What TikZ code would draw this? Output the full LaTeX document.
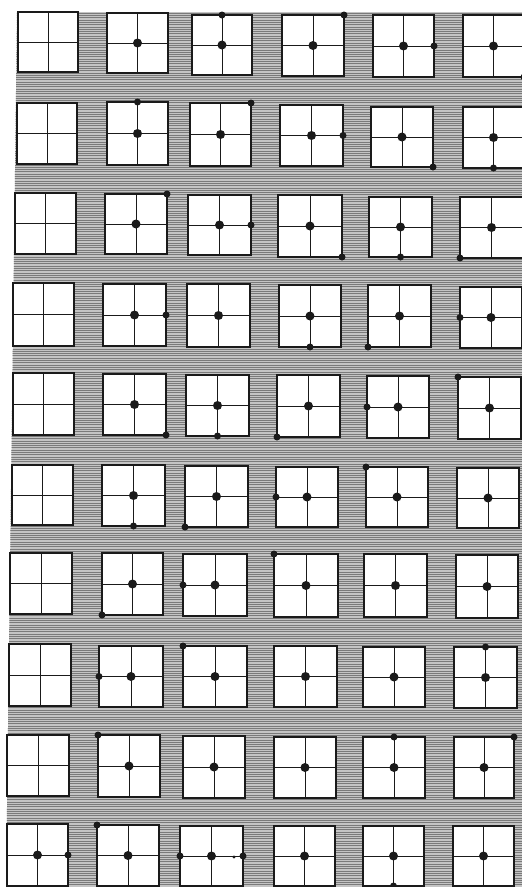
\documentclass[tikz,border=0pt]{standalone}
\usepackage{tikz}
\usetikzlibrary{calc}
\definecolor{hatchGray}{HTML}{C4C4C4}
\definecolor{hatchLine}{HTML}{7A7A7A}
\definecolor{inkBlack}{HTML}{1A1A1A}

\begin{document}
\begin{tikzpicture}[x=1pt,y=-1pt,
    sq/.style={draw=inkBlack,fill=white,line width=1.5pt,inner sep=0pt,outer sep=0pt},
    cross/.style={inkBlack,line width=0.8pt},
    pip/.style={fill=inkBlack}]
    \useasboundingbox (0,0) rectangle (522,887);
    \fill[white] (0,0) rectangle (522,887);
    \coordinate (ga) at (17,12);
    \coordinate (gb) at (522,12);
    \coordinate (gc) at (522,887);
    \coordinate (gd) at (6,887);
    \fill[hatchGray] (ga) -- (gb) -- (gc) -- (gd) -- cycle;
    \begin{scope}
      \clip (ga) -- (gb) -- (gc) -- (gd) -- cycle;
      \foreach \y in {13,15.3,...,887}
        \draw[hatchLine,line width=0.6pt] (0,\y) -- (522,\y);
    \end{scope}
    \foreach \r/\c/\xa/\ya/\xb/\yb in {
      1/1/18/12/78/72, 1/2/107/13/168/73, 1/3/192/15/252/75, 1/4/282/15/344/76, 1/5/373/15/434/77, 1/6/463/15/524/77,
      2/1/17/103/77/164, 2/2/107/102/168/165, 2/3/190/103/251/166, 2/4/280/105/343/166, 2/5/371/107/433/167, 2/6/463/107/524/168,
      3/1/15/193/76/254, 3/2/105/194/167/254, 3/3/188/195/251/255, 3/4/278/195/342/257, 3/5/369/197/432/257, 3/6/460/197/523/258,
      4/1/13/283/74/346, 4/2/103/284/166/346, 4/3/187/284/250/347, 4/4/279/285/341/347, 4/5/368/285/431/347, 4/6/460/287/522/348,
      5/1/13/373/74/435, 5/2/103/374/166/435, 5/3/186/375/249/436, 5/4/277/375/340/437, 5/5/367/376/429/438, 5/6/458/377/521/439,
      6/1/12/465/73/525, 6/2/102/465/165/526, 6/3/185/466/248/527, 6/4/276/467/338/527, 6/5/366/467/428/527, 6/6/457/468/519/528,
      7/1/10/553/72/614, 7/2/102/553/163/615, 7/3/183/554/247/616, 7/4/274/554/338/617, 7/5/364/554/427/617, 7/6/456/555/518/618,
      8/1/9/644/71/706, 8/2/99/646/163/707, 8/3/183/646/247/707, 8/4/274/646/337/707, 8/5/363/647/425/707, 8/6/454/647/517/708,
      9/1/7/735/69/796, 9/2/98/735/160/797, 9/3/183/736/245/798, 9/4/274/737/336/798, 9/5/363/737/425/798, 9/6/454/737/514/798,
      10/1/7/824/68/886, 10/2/97/825/159/886, 10/3/180/826/243/886, 10/4/274/826/335/886, 10/5/363/826/424/886, 10/6/453/826/514/886}
    {
      \pgfmathsetmacro\w{\xb-\xa}
      \pgfmathsetmacro\h{\yb-\ya}
      \node[sq,minimum width=\w pt,minimum height=\h pt] (s\r-\c) at ({(\xa+\xb)/2},{(\ya+\yb)/2}) {};
      \draw[cross] (s\r-\c.north) -- (s\r-\c.south);
      \draw[cross] (s\r-\c.west) -- (s\r-\c.east);
    }
    \foreach \r in {1,...,10}
      \foreach \c in {2,...,6}
        \fill[pip] (s\r-\c.center) circle[radius=4.5pt];
    \fill[pip] (s10-1.center) circle[radius=4.5pt];
    \foreach \n/\a in {
      1-3/north, 1-4/north east, 1-5/east, 1-6/south east,
      2-2/north, 2-3/north east, 2-4/east, 2-5/south east, 2-6/south,
      3-2/north east, 3-3/east, 3-4/south east, 3-5/south, 3-6/south west,
      4-2/east, 4-4/south, 4-5/south west, 4-6/west,
      5-2/south east, 5-3/south, 5-4/south west, 5-5/west, 5-6/north west,
      6-2/south, 6-3/south west, 6-4/west, 6-5/north west,
      7-2/south west, 7-3/west, 7-4/north west,
      8-2/west, 8-3/north west, 8-6/north,
      9-2/north west, 9-5/north, 9-6/north east,
      10-1/east, 10-2/north west, 10-3/west, 10-3/east, 10-5/south}
      \fill[pip] (s\n.\a) circle[radius=3.5pt];
    \fill[pip] ($(s10-3.east)+(-9,1)$) circle[radius=1.6pt];
  \end{tikzpicture}
\end{document}
